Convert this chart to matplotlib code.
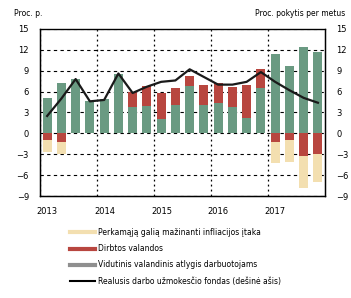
import numpy as np
import matplotlib
matplotlib.use("Agg")
import matplotlib.pyplot as plt
from matplotlib.lines import Line2D

# ------------------------------------------------------------------ duomenys (ketvirčiai 2013K1-2017K4)
quarters = np.arange(20)
atlygis  = [5.1, 7.2, 7.8, 4.6, 5.0, 8.5, 3.8, 4.0, 2.0, 4.1, 6.8, 4.1,
            4.3, 3.8, 2.2, 6.5, 11.4, 9.7, 12.4, 11.7]
valandos = [-1.0, -1.2, 0.0, 0.0, 0.0, 0.0, 2.1, 2.8, 3.8, 2.4, 1.5, 2.8,
            2.9, 2.9, 4.8, 2.8, -1.3, -1.0, -3.3, -2.9]
infliacija = [-1.6, -1.8, 0.0, 0.0, 0.0, 0.0, 0.0, 0.0, 0.0, 0.0, 0.0, 0.0,
              0.0, 0.0, 0.0, 0.0, -3.0, -3.1, -4.5, -4.1]
fondas   = [2.5, 5.0, 7.8, 4.6, 4.8, 8.6, 5.8, 6.7, 7.4, 7.6, 9.2, 8.1,
            7.0, 7.0, 7.4, 8.8, 7.4, 6.2, 5.1, 4.4]
years    = [2013, 2014, 2015, 2016, 2017]
yticks   = [-9, -6, -3, 0, 3, 6, 9, 12, 15]

labels = ['Perkamąją galią mažinanti infliacijos įtaka',
          'Dirbtos valandos',
          'Vidutinis valandinis atlygis darbuotojams',
          'Realusis darbo užmokesčio fondas (dešinė ašis)']

C_GREEN = '#6a9a82'
C_RED = '#b8463f'
C_YEL = '#f3dfb0'

# ------------------------------------------------------------------ braižymas
fig = plt.figure(figsize=(3.51, 2.98), dpi=100)
ax = fig.add_axes([0.114, 0.342, 0.812, 0.561])

x = 2013 + (quarters + 0.5) / 4
w = 0.16
atl = np.array(atlygis); val = np.array(valandos); inf = np.array(infliacija)
ax.bar(x, atl, w, color=C_GREEN, zorder=2)
pos_base = np.where(val > 0, atl, 0)
ax.bar(x, val, w, bottom=pos_base, color=C_RED, zorder=2)
neg_base = np.where(val < 0, val, 0)
ax.bar(x, inf, w, bottom=neg_base, color=C_YEL, zorder=2)

ax.set_xlim(2013, 2018)
ax.set_ylim(-9, 15)
ax.set_yticks(yticks)
ax.set_xticks(years)
ax.set_xticklabels([])
ax.set_xticks([y + 0.13 for y in years], minor=True)
ax.set_xticklabels([str(y) for y in years], minor=True, fontsize=6)
ax.tick_params(axis='x', which='both', length=0, pad=8)
ax.tick_params(axis='y', length=0, labelsize=6, pad=8)
ax.grid(axis='y', color='black', ls=(0, (3, 3)), lw=0.8, zorder=1)
ax.grid(axis='x', which='major', color='black', ls=(0, (1.5, 2.5)), lw=0.9, zorder=1)
for s in ax.spines.values():
    s.set_linewidth(1.0)
ax.spines['top'].set_color('#555555')

ax2 = ax.twinx()
ax2.plot(x, fondas, color='#1a1a1a', lw=1.6, zorder=3)
ax2.set_ylim(-9, 15)
ax2.set_yticks(yticks)
ax2.tick_params(axis='y', length=0, labelsize=6, pad=8)

fig.text(0.04, 0.955, 'Proc. p.', fontsize=5.5, va='center')
fig.text(0.985, 0.955, 'Proc. pokytis per metus', fontsize=5.5, va='center', ha='right')

handles = [Line2D([], [], color=C_YEL, lw=3),
           Line2D([], [], color=C_RED, lw=3),
           Line2D([], [], color='#8f8f8f', lw=3),
           Line2D([], [], color='black', lw=1.5)]
fig.legend(handles, labels, loc='upper left', bbox_to_anchor=(0.2, 0.235),
           frameon=False, fontsize=5.5, handlelength=3.2, handletextpad=0.4,
           labelspacing=0.95, borderaxespad=0, borderpad=0)

fig.savefig('out.png', dpi=100)
